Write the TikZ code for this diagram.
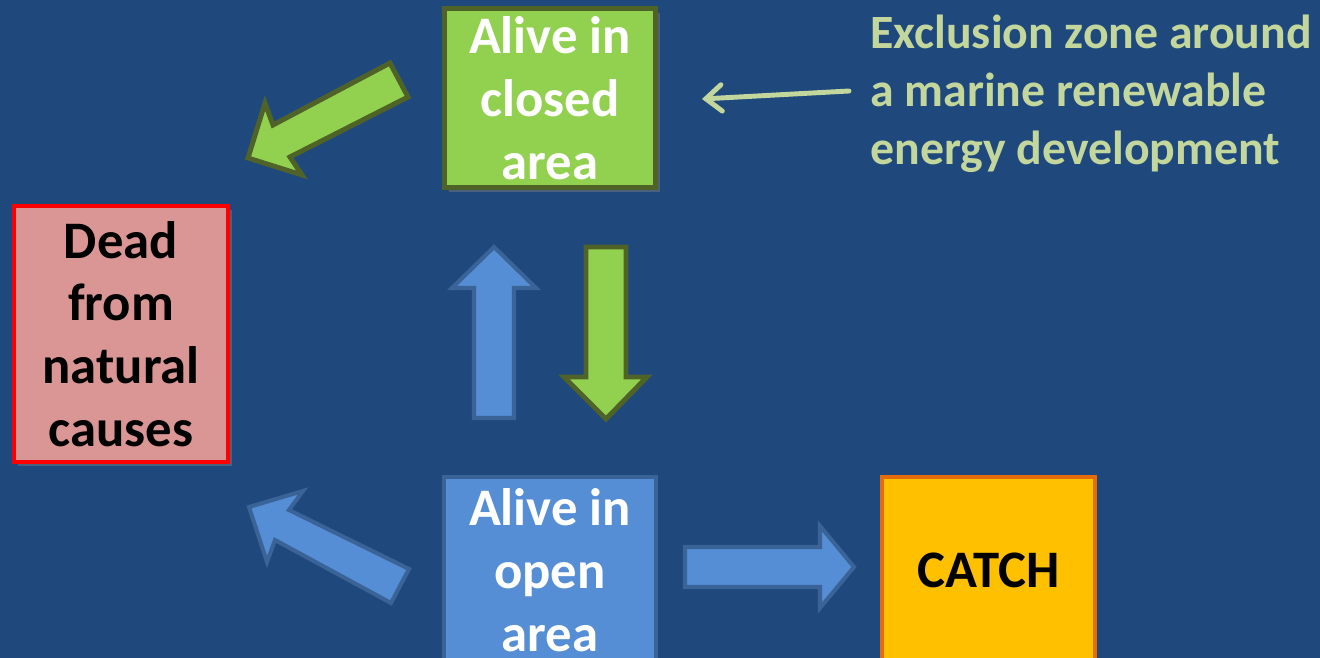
\documentclass[tikz,border=0pt]{standalone}
\usepackage{fontspec}
\setmainfont{Carlito}
\usetikzlibrary{arrows.meta,shadows}

\definecolor{bgblue}{HTML}{1F497D}
\definecolor{leaf}{HTML}{92D050}
\definecolor{olive}{HTML}{4F6228}
\definecolor{sea}{HTML}{558ED5}
\definecolor{seaedge}{HTML}{3A6498}
\definecolor{rose}{HTML}{D99694}
\definecolor{amber}{HTML}{FFC000}
\definecolor{rust}{HTML}{E46C0A}
\definecolor{pale}{HTML}{C3D69B}

\tikzset{
	box/.style={draw, rectangle, align=center, inner sep=0pt,
		font=\bfseries\fontsize{30}{35.7}\selectfont},
	boxshadow/.style={drop shadow={opacity=.45, shadow xshift=2.5pt, shadow yshift=-2.5pt}},
	greenarrow/.style={fill=leaf, draw=olive, line width=2.8pt},
	bluearrow/.style={fill=sea, draw=seaedge, line width=2.3pt},
	callout/.style={draw=pale, line width=2.8pt, line cap=round,
		-{Straight Barb[length=9pt, width=15pt, line cap=round]}}
}

\begin{document}
\begin{tikzpicture}[x=0.02cm, y=-0.02cm, line join=miter]
	\fill[bgblue] (0,0) rectangle (1320,658);
	\useasboundingbox (0,0) rectangle (1320,658);
	\clip (0,0) rectangle (1320,658);

	% boxes
	\node[box, boxshadow, fill=leaf, draw=olive, line width=2.83pt, text=white,
		minimum width=4.22cm, minimum height=3.58cm] (closed) at (550,98) {Alive in\\closed\\area};
	\node[box, boxshadow, fill=rose, draw=red, line width=2.27pt, text=black,
		minimum width=4.28cm, minimum height=5.12cm] (dead) at (121,334) {Dead\\from\\natural\\causes};
	\node[box, fill=sea, draw=seaedge, line width=2.27pt, text=white,
		minimum width=4.24cm, minimum height=3.72cm] (open) at (550,570) {Alive in\\open\\area};
	\node[box, fill=amber, draw=rust, line width=2.27pt, text=black,
		minimum width=4.26cm, minimum height=3.72cm] (catch) at (988.5,570) {CATCH};

	% note
	\node[anchor=west, align=left, inner sep=0pt, text=pale,
		font=\bfseries\fontsize{27.2}{33}\selectfont] (note) at (870,94)
		{Exclusion zone around\\a marine renewable\\energy development};
	\coordinate (noteTip) at (702,99);
	\draw[callout] ([xshift=-0.42cm, yshift=0.06cm]note.west) -- (noteTip);

	% block arrows
	\draw[greenarrow] (390,63) -- (273,125) -- (265,103) -- (248,158)
		-- (302,175) -- (290,157) -- (408,97) -- cycle;
	\draw[greenarrow] (586,247) -- (626,247) -- (626,377) -- (647,377)
		-- (606,419) -- (564,377) -- (586,377) -- cycle;
	\draw[bluearrow] (474,418) -- (474,288) -- (452,288) -- (494,247)
		-- (536,288) -- (514,288) -- (514,418) -- cycle;
	\draw[bluearrow] (409,569) -- (289,510) -- (303,491) -- (249,507)
		-- (267,562) -- (275,540) -- (391,603) -- cycle;
	\draw[bluearrow] (685,547) -- (820,547) -- (820,526) -- (854,567)
		-- (820,608) -- (820,587) -- (685,587) -- cycle;
\end{tikzpicture}
\end{document}
